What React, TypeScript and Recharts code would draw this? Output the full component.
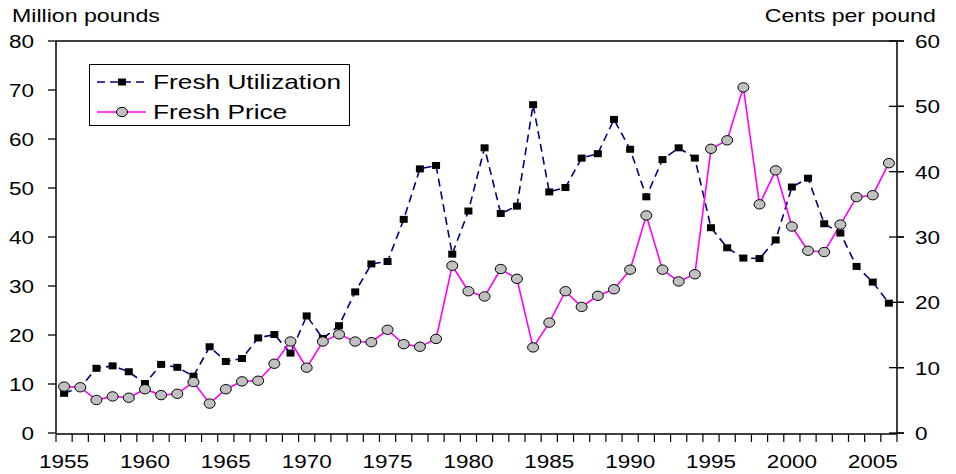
import { ComposedChart, Line, XAxis, YAxis, Legend, ReferenceLine } from "recharts";

const years = [
  1955, 1956, 1957, 1958, 1959, 1960, 1961, 1962, 1963, 1964,
  1965, 1966, 1967, 1968, 1969, 1970, 1971, 1972, 1973, 1974,
  1975, 1976, 1977, 1978, 1979, 1980, 1981, 1982, 1983, 1984,
  1985, 1986, 1987, 1988, 1989, 1990, 1991, 1992, 1993, 1994,
  1995, 1996, 1997, 1998, 1999, 2000, 2001, 2002, 2003, 2004, 2005, 2006,
];

// million pounds (left axis)
const utilization = [
  8.1, 9.3, 13.2, 13.7, 12.5, 10.1, 14.0, 13.4, 11.6, 17.6,
  14.6, 15.2, 19.4, 20.1, 16.3, 23.9, 19.3, 21.9, 28.8, 34.5,
  35.0, 43.6, 53.9, 54.6, 36.5, 45.3, 58.2, 44.8, 46.3, 67.0,
  49.2, 50.1, 56.1, 57.0, 64.0, 57.9, 48.2, 55.8, 58.2, 56.1,
  41.9, 37.8, 35.7, 35.6, 39.4, 50.2, 52.0, 42.7, 40.8, 34.0, 30.8, 26.5,
];

// cents per pound (right axis)
const price = [
  7.1, 7.0, 5.05, 5.6, 5.4, 6.7, 5.8, 6.0, 7.8, 4.5,
  6.7, 7.9, 8.0, 10.6, 14.0, 10.0, 14.0, 15.1, 14.0, 13.9,
  15.8, 13.6, 13.2, 14.4, 25.6, 21.7, 20.9, 25.1, 23.6, 13.1,
  16.9, 21.7, 19.3, 21.0, 22.0, 25.0, 33.3, 25.0, 23.2, 24.3,
  43.5, 44.8, 52.9, 35.0, 40.2, 31.6, 27.9, 27.7, 31.9, 36.1, 36.4, 41.3,
];

const leftTicks = [0, 10, 20, 30, 40, 50, 60, 70, 80];
const rightTicks = [0, 10, 20, 30, 40, 50, 60];
const yearLabels = [1955, 1960, 1965, 1970, 1975, 1980, 1985, 1990, 1995, 2000, 2005];
const yearBoundaries = [...years.map((y) => y - 0.5), years[years.length - 1] + 0.5];

const data = years.map((year, i) => ({ year, utilization: utilization[i], price: price[i] }));

const FONT = '"Liberation Sans", Arial, sans-serif';
const STRETCH = 1.25;
const NAVY = "#000080";
const MAGENTA = "#FF00FF";

const LeftTick = (props: any) => {
  const { x, y, payload } = props;
  return (
    <text transform={`translate(${x},${y + 7}) scale(${STRETCH},1)`} textAnchor="end" fontSize={18} fontFamily={FONT} fill="#000">
      {payload.value}
    </text>
  );
};

const RightTick = (props: any) => {
  const { x, y, payload } = props;
  return (
    <g>
      <line x1={x - 26} x2={x - 11} y1={y} y2={y} stroke="#000" strokeWidth={1.3} />
      <text transform={`translate(${x},${y + 7}) scale(${STRETCH},1)`} textAnchor="start" fontSize={18} fontFamily={FONT} fill="#000">
        {payload.value}
      </text>
    </g>
  );
};

const YearTick = (props: any) => {
  const { x, y, payload } = props;
  return (
    <text transform={`translate(${x},${y + 25}) scale(${STRETCH},1)`} textAnchor="middle" fontSize={18} fontFamily={FONT} fill="#000">
      {payload.value}
    </text>
  );
};

const EmptyTick = () => <g />;

const SquareDot = (props: any) => {
  const { cx, cy, index } = props;
  return <rect key={`s${index}`} x={cx - 4} y={cy - 3.5} width={8} height={7} fill="#000" />;
};

const CircleDot = (props: any) => {
  const { cx, cy, index } = props;
  return <ellipse key={`c${index}`} cx={cx} cy={cy} rx={5.5} ry={4.7} fill="#C0C0C0" stroke="#000" strokeWidth={1} />;
};

const legendText: any = {
  position: "absolute",
  left: 63,
  fontSize: 21,
  fontFamily: FONT,
  color: "#000",
  whiteSpace: "nowrap",
  transform: `scaleX(${STRETCH})`,
  transformOrigin: "left center",
  lineHeight: "30px",
};

const LegendBox = () => (
  <div style={{ position: "relative", width: 261, height: 62, boxSizing: "border-box", border: "1px solid #000", background: "#fff" }}>
    <div style={{ position: "absolute", left: 0, top: 2, height: 30, width: 260 }}>
      <svg width={50} height={30} style={{ position: "absolute", left: 7, top: 0 }}>
        <line x1={0} x2={49} y1={15} y2={15} stroke={NAVY} strokeWidth={1.6} strokeDasharray="8 5" />
        <rect x={21} y={11.5} width={8} height={7} fill="#000" />
      </svg>
      <span style={legendText}>Fresh Utilization</span>
    </div>
    <div style={{ position: "absolute", left: 0, top: 32, height: 30, width: 260 }}>
      <svg width={50} height={30} style={{ position: "absolute", left: 7, top: 0 }}>
        <line x1={0} x2={49} y1={15} y2={15} stroke={MAGENTA} strokeWidth={1.6} />
        <ellipse cx={25} cy={15} rx={5.5} ry={4.7} fill="#C0C0C0" stroke="#000" strokeWidth={1} />
      </svg>
      <span style={legendText}>Fresh Price</span>
    </div>
  </div>
);

const titleStyle: any = {
  position: "absolute",
  top: 6,
  fontSize: 18.5,
  lineHeight: "19px",
  fontFamily: FONT,
  color: "#000",
  whiteSpace: "nowrap",
  transform: `scaleX(${STRETCH})`,
};

export default function App() {
  return (
    <div style={{ position: "absolute", left: 0, top: 0, width: 956, height: 474, background: "#fff" }}>
      <ComposedChart width={956} height={474} data={data} margin={{ top: 41, right: 0, bottom: 39, left: 0 }}>
        <XAxis
          xAxisId="ticks"
          dataKey="year"
          type="number"
          domain={[1954.5, 2006.5]}
          ticks={yearBoundaries}
          tick={EmptyTick}
          tickSize={8}
          height={1}
          interval={0}
          axisLine={{ stroke: "#000", strokeWidth: 1.5 }}
          tickLine={{ stroke: "#000", strokeWidth: 1.2 }}
          allowDataOverflow
        />
        <XAxis
          xAxisId="labels"
          dataKey="year"
          type="number"
          domain={[1954.5, 2006.5]}
          ticks={yearLabels}
          tick={YearTick}
          tickSize={8}
          tickMargin={2}
          height={1}
          axisLine={false}
          tickLine={false}
          interval={0}
          allowDataOverflow
        />
        <YAxis
          yAxisId="left"
          domain={[0, 80]}
          ticks={leftTicks}
          width={56}
          tickSize={8}
          tickMargin={14}
          tick={LeftTick}
          interval={0}
          axisLine={{ stroke: "#000", strokeWidth: 1.5 }}
          tickLine={{ stroke: "#000", strokeWidth: 1.3 }}
        />
        <YAxis
          yAxisId="right"
          orientation="right"
          domain={[0, 60]}
          ticks={rightTicks}
          width={59}
          tickSize={7}
          tickMargin={11}
          tick={RightTick}
          interval={0}
          axisLine={{ stroke: "#000", strokeWidth: 1.5 }}
          tickLine={{ stroke: "#000", strokeWidth: 1.3 }}
        />
        <ReferenceLine xAxisId="labels" yAxisId="left" y={80} stroke="#000" strokeWidth={1.5} />
        <Legend
          layout="horizontal"
          verticalAlign="middle"
          align="center"
          wrapperStyle={{ left: 89, top: 64, width: 261, height: 62 }}
          content={LegendBox}
        />
        <Line
          xAxisId="labels"
          yAxisId="left"
          type="linear"
          dataKey="utilization"
          name="Fresh Utilization"
          stroke={NAVY}
          strokeWidth={1.6}
          strokeDasharray="8 5"
          dot={SquareDot}
          activeDot={false}
          isAnimationActive={false}
        />
        <Line
          xAxisId="labels"
          yAxisId="right"
          type="linear"
          dataKey="price"
          name="Fresh Price"
          stroke={MAGENTA}
          strokeWidth={1.6}
          dot={CircleDot}
          activeDot={false}
          isAnimationActive={false}
        />
      </ComposedChart>
      <div style={{ ...titleStyle, left: 12, transformOrigin: "left center" }}>Million pounds</div>
      <div style={{ ...titleStyle, right: 20, transformOrigin: "right center" }}>Cents per pound</div>
    </div>
  );
}
